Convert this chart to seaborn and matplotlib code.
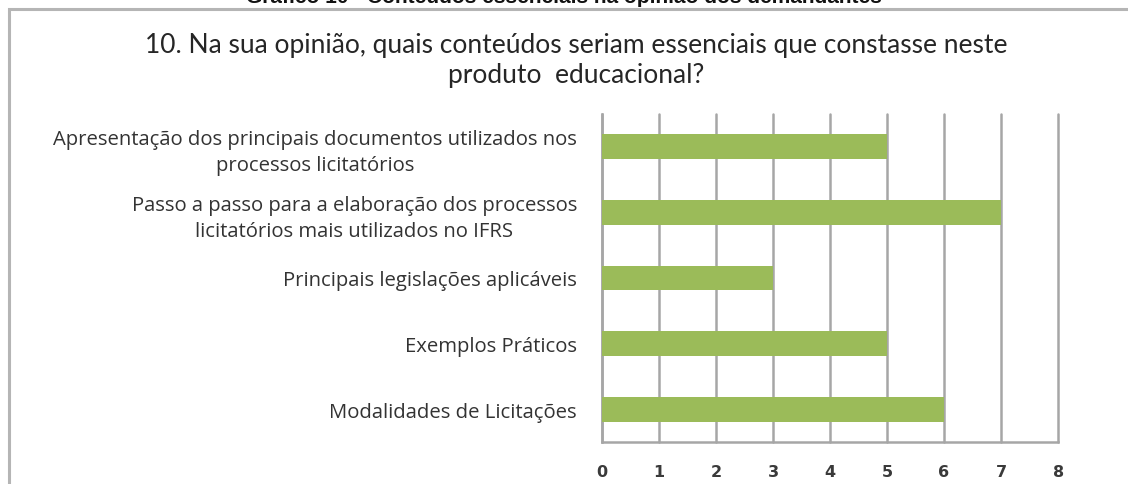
import matplotlib
matplotlib.use('Agg')
import matplotlib.pyplot as plt
from matplotlib.patches import Rectangle
import seaborn as sns
import pandas as pd

# Data.
categorias = [
    'Apresentação dos principais documentos utilizados nos\nprocessos licitatórios',
    'Passo a passo para a elaboração dos processos\nlicitatórios mais utilizados no IFRS',
    'Principais legislações aplicáveis',
    'Exemplos Práticos',
    'Modalidades de Licitações',
]
respostas = [5, 7, 3, 5, 6]
ticks_x = [0, 1, 2, 3, 4, 5, 6, 7, 8]

sns.set_theme(style='white')
plt.rcParams['font.family'] = ['Lato', 'DejaVu Sans']

df = pd.DataFrame({'categoria': categorias, 'respostas': respostas})

fig = plt.figure(figsize=(11.28, 4.85), dpi=100)
ax = fig.add_axes([0.5337, 0.0866, 0.938 - 0.5337, 0.763 - 0.0866])

sns.barplot(data=df, x='respostas', y='categoria', orient='h', color='#9BBB59',
            saturation=1, width=0.38, linewidth=0, ax=ax, zorder=3)

ax.set_xlim(0, 8)
ax.set_xticks(ticks_x)
ax.set_xticklabels([str(t) for t in ticks_x], family='DejaVu Sans', fontsize=11.5,
                   fontweight='bold', color='#3a3a3a')
ax.set_yticks(range(len(categorias)))
ax.set_yticklabels(categorias, family='Open Sans', fontsize=14.6, color='#333333',
                   ha='right', multialignment='center', linespacing=1.4)
ax.tick_params(axis='y', length=0, pad=18)
ax.tick_params(axis='x', length=0, pad=16)
ax.set_xlabel('')
ax.set_ylabel('')

ax.grid(axis='x', color='#a6a6a6', linewidth=1.8, zorder=0)
ax.set_axisbelow(True)
for gl in ax.get_xgridlines():
    gl.set_clip_on(False)
for side in ['top', 'right']:
    ax.spines[side].set_visible(False)
for side in ['left', 'bottom']:
    ax.spines[side].set_color('#a6a6a6')
    ax.spines[side].set_linewidth(1.8)

# Chart title (two lines, centered)
fig.text(0.511, 1 - 45 / 485, '10. Na sua opinião, quais conteúdos seriam essenciais que constasse neste',
         ha='center', va='center', fontsize=19, color='#262626')
fig.text(0.511, 1 - 75 / 485, 'produto  educacional?',
         ha='center', va='center', fontsize=19, color='#262626')

# Cropped caption at the very top of the image
fig.text(0.5, 1 - 3 / 485, 'Gráfico 10 - Conteúdos essenciais na opinião dos demandantes',
         ha='center', va='baseline', fontsize=15, fontweight='bold',
         family='Liberation Sans', color='#111111')

# Chart frame (extends beyond the cropped right and bottom edges)
fig.patches.append(Rectangle((8.5 / 1128, -0.1), 1.2, 1.1 - 10 / 485,
                             transform=fig.transFigure, fill=False,
                             edgecolor='#b5b5b5', linewidth=2.2))

fig.savefig('out.png', dpi=100)
